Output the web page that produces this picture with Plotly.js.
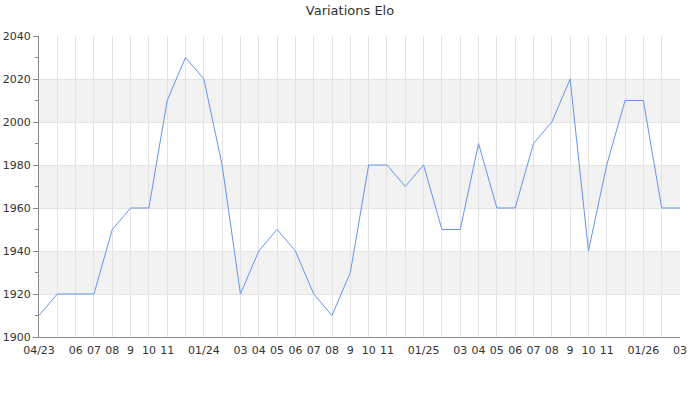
<!DOCTYPE html>
<html>
<head>
<meta charset="utf-8">
<script src="https://cdn.plot.ly/plotly-3.0.1.min.js"></script>
<style>html,body{margin:0;padding:0;background:#fff;}#chart{width:700px;height:400px;}</style>
</head>
<body>
<div id="chart"></div>
<script>
const months = ["2023-04","2023-05","2023-06","2023-07","2023-08","2023-09","2023-10","2023-11","2023-12",
  "2024-01","2024-02","2024-03","2024-04","2024-05","2024-06","2024-07","2024-08","2024-09","2024-10","2024-11","2024-12",
  "2025-01","2025-02","2025-03","2025-04","2025-05","2025-06","2025-07","2025-08","2025-09","2025-10","2025-11","2025-12",
  "2026-01","2026-02","2026-03"];
const elo = [1910,1920,1920,1920,1950,1960,1960,2010,2030,
  2020,1980,1920,1940,1950,1940,1920,1910,1930,1980,1980,1970,
  1980,1950,1950,1990,1960,1960,1990,2000,2020,1940,1980,2010,
  2010,1960,1960];
const tickLabels = ["04/23","","06","07","08","9","10","11","",
  "01/24","","03","04","05","06","07","08","9","10","11","",
  "01/25","","03","04","05","06","07","08","9","10","11","",
  "01/26","","03"];
const bands = [[1920,1940],[1960,1980],[2000,2020]];

const shapes = bands.map(b => ({type:"rect", xref:"paper", yref:"y", x0:0, x1:1, y0:b[0], y1:b[1],
  fillcolor:"#f2f2f2", line:{width:0}, layer:"below"}));

Plotly.newPlot("chart", [{
  x: months, y: elo, type: "scatter", mode: "lines",
  line: {color: "#6495ed", width: 1}, hoverinfo: "x+y"
}], {
  width: 700, height: 400,
  margin: {l: 39, r: 20, t: 36, b: 63},
  paper_bgcolor: "#fff", plot_bgcolor: "rgba(0,0,0,0)",
  font: {family: "DejaVu Sans", size: 11, color: "#333"},
  title: {text: "Variations Elo", x: 0.5, xanchor: "center", y: 0.985, yanchor: "top", font: {size: 13, color: "#333"}},
  showlegend: false,
  shapes: shapes,
  xaxis: {
    type: "category", range: [0, months.length - 1],
    tickmode: "array", tickvals: months, ticktext: tickLabels,
    showgrid: true, gridcolor: "#e3e3e3", gridwidth: 1,
    ticks: "", showline: true, linecolor: "#888", linewidth: 1,
    ticklabelstandoff: 3,
    tickfont: {size: 11, color: "#333"}, tickangle: 0, zeroline: false, fixedrange: true
  },
  yaxis: {
    range: [1900, 2040], dtick: 20, tick0: 1900,
    showgrid: true, gridcolor: "#e3e3e3", gridwidth: 1,
    ticks: "outside", ticklen: 5, tickcolor: "#888",
    minor: {dtick: 10, ticks: "outside", ticklen: 3, tickcolor: "#888", showgrid: false},
    showline: true, linecolor: "#888", linewidth: 1, zeroline: false,
    tickfont: {size: 11, color: "#333"}, fixedrange: true
  }
}, {displayModeBar: false, staticPlot: true});
</script>
</body>
</html>
